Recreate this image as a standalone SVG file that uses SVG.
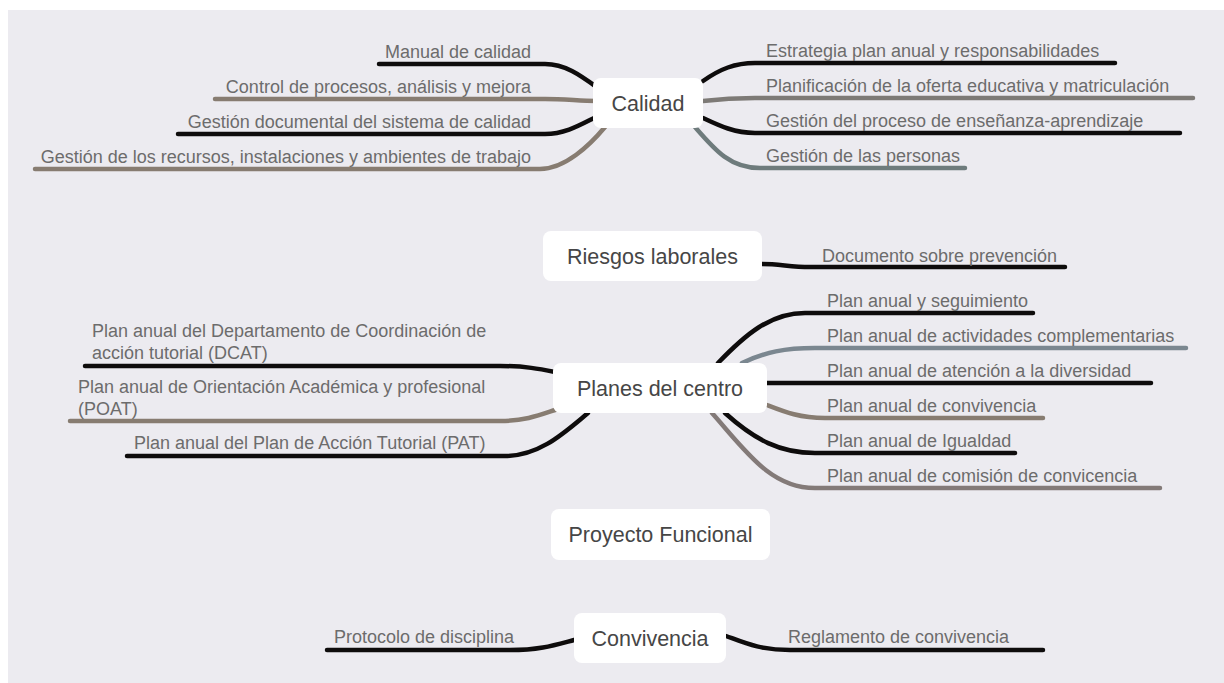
<svg xmlns="http://www.w3.org/2000/svg" width="1224" height="683" viewBox="0 0 1224 683">
<style>
.bg{fill:#ecebf0}
.box{fill:#ffffff}
.nt{font-family:"Liberation Sans",Arial,sans-serif;font-size:21.5px;fill:#464646;text-anchor:middle}
.lt{font-family:"Liberation Sans",Arial,sans-serif;font-size:18px;fill:#6c6c6c}
.e{text-anchor:end}
.c{fill:none;stroke-width:4.5;stroke-linecap:round;stroke-linejoin:round}
.k{stroke:#0e0c0c}
.g{stroke:#7d7a76}
.s{stroke:#6e7b7c}
.b{stroke:#7b8790}
.r{stroke:#837a78}
.t{stroke:#877c71}
</style>
<rect class="bg" x="8" y="10" width="1216" height="673"/>
<g id="connectors">
<path class="c k" d="M379 64 H545 C565 64 580 75 598 88"/>
<path class="c t" d="M215 99 H545 C565 99 580 101 596 101"/>
<path class="c k" d="M178 134 H545 C565 134 580 125 596 117"/>
<path class="c t" d="M35 169 H540 C565 169 590 145 605 127"/>
<path class="c k" d="M703 81 C720 69 735 63 755 63 H1115"/>
<path class="c g" d="M703 101 C720 99 735 98 755 98 H1193"/>
<path class="c k" d="M703 118 C720 126 735 133 755 133 H1180"/>
<path class="c s" d="M695 127 C715 150 730 168 760 168 H965"/>
<path class="c k" d="M762 264 C780 264 790 267 810 267 H1065"/>
<path class="c k" d="M718 363 C745 335 770 313 805 313 H1033"/>
<path class="c b" d="M742 363 C765 352 785 348 815 348 H1186"/>
<path class="c k" d="M767 383 C785 383 800 383 820 383 H1151"/>
<path class="c t" d="M767 405 C785 412 800 418 825 418 H1043"/>
<path class="c k" d="M725 413 C755 440 780 453 815 453 H1015"/>
<path class="c r" d="M712 413 C745 450 770 488 815 488 H1160"/>
<path class="c k" d="M85 366 H500 C525 366 540 369 555 372"/>
<path class="c t" d="M70 421 H500 C525 421 540 415 555 410"/>
<path class="c k" d="M127 456 H505 C540 456 565 432 588 413"/>
<path class="c k" d="M574 640 C555 645 540 650 510 650 H327"/>
<path class="c k" d="M726 636 C745 643 760 650 790 650 H1043"/>
</g>
<g id="calidad">
<rect class="box" x="593" y="78" width="110" height="50" rx="8"/>
<text class="nt" x="648" y="110.5">Calidad</text>
</g>
<g id="manual"><text class="lt e" x="531" y="58">Manual de calidad</text></g>
<g id="control"><text class="lt e" x="531" y="93">Control de procesos, análisis y mejora</text></g>
<g id="gestdoc"><text class="lt e" x="531" y="128">Gestión documental del sistema de calidad</text></g>
<g id="recursos"><text class="lt e" x="531" y="163">Gestión de los recursos, instalaciones y ambientes de trabajo</text></g>
<g id="estrategia"><text class="lt" x="766" y="57">Estrategia plan anual y responsabilidades</text></g>
<g id="planificacion"><text class="lt" x="766" y="92">Planificación de la oferta educativa y matriculación</text></g>
<g id="ensenanza"><text class="lt" x="766" y="127">Gestión del proceso de enseñanza-aprendizaje</text></g>
<g id="personas"><text class="lt" x="766" y="162">Gestión de las personas</text></g>
<g id="riesgos">
<rect class="box" x="543" y="231" width="219" height="50" rx="8"/>
<text class="nt" x="652.5" y="263.5">Riesgos laborales</text>
</g>
<g id="documento"><text class="lt" x="822" y="262">Documento sobre prevención</text></g>
<g id="planes">
<rect class="box" x="553" y="363" width="214" height="50" rx="8"/>
<text class="nt" x="660" y="395.5">Planes del centro</text>
</g>
<g id="seguimiento"><text class="lt" x="827" y="307">Plan anual y seguimiento</text></g>
<g id="actividades"><text class="lt" x="827" y="342">Plan anual de actividades complementarias</text></g>
<g id="diversidad"><text class="lt" x="827" y="377">Plan anual de atención a la diversidad</text></g>
<g id="pconvivencia"><text class="lt" x="827" y="412">Plan anual de convivencia</text></g>
<g id="igualdad"><text class="lt" x="827" y="447">Plan anual de Igualdad</text></g>
<g id="comision"><text class="lt" x="827" y="482">Plan anual de comisión de convicencia</text></g>
<g id="dcat"><text class="lt" x="92" y="337">Plan anual del Departamento de Coordinación de</text><text class="lt" x="92" y="359">acción tutorial (DCAT)</text></g>
<g id="poat"><text class="lt" x="78" y="393">Plan anual de Orientación Académica y profesional</text><text class="lt" x="78" y="415">(POAT)</text></g>
<g id="pat"><text class="lt" x="134" y="449">Plan anual del Plan de Acción Tutorial (PAT)</text></g>
<g id="proyecto">
<rect class="box" x="551" y="509" width="219" height="51" rx="8"/>
<text class="nt" x="660.5" y="542">Proyecto Funcional</text>
</g>
<g id="convivencia">
<rect class="box" x="574" y="613" width="152" height="50" rx="8"/>
<text class="nt" x="650" y="645.5">Convivencia</text>
</g>
<g id="protocolo"><text class="lt e" x="514" y="643">Protocolo de disciplina</text></g>
<g id="reglamento"><text class="lt" x="788" y="643">Reglamento de convivencia</text></g>
</svg>
